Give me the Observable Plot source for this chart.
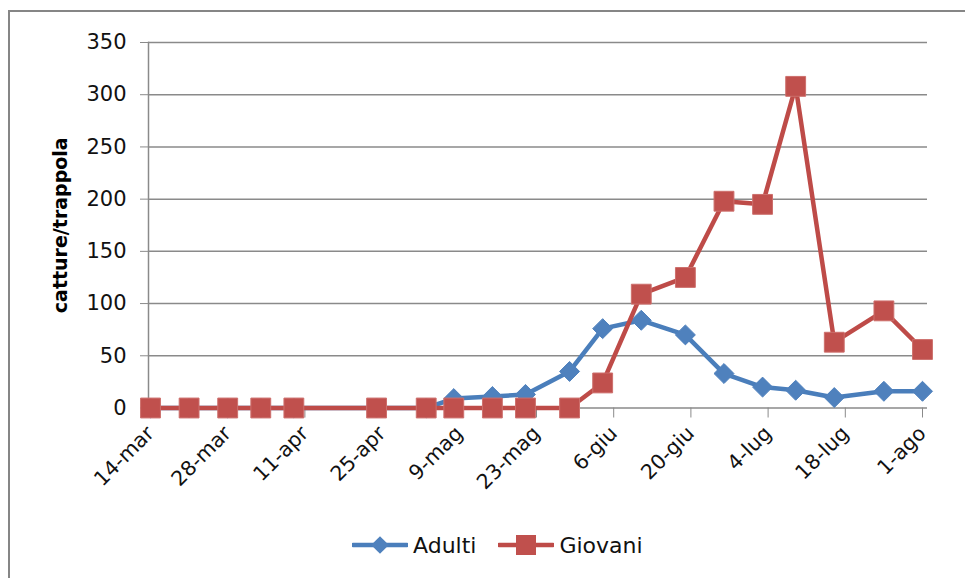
<!DOCTYPE html>
<html><head><meta charset="utf-8">
<script src="https://cdn.jsdelivr.net/npm/d3@7"></script>
<script src="https://cdn.jsdelivr.net/npm/@observablehq/plot@0.6"></script>
<style>
body{margin:0;background:#fff;font-family:"DejaVu Sans",sans-serif;}
#wrap{position:relative;width:965px;height:578px;overflow:hidden;background:#fff;}
#border{position:absolute;left:8px;top:10px;width:1100px;height:700px;border:2px solid #868686;box-sizing:border-box;}
#chart{position:absolute;left:0;top:0;}
#legend{position:absolute;left:352px;top:532px;display:flex;align-items:center;font-size:22px;color:#111;}
#legend .item{display:flex;align-items:center;}
#legend .item span{margin-left:5px;}
</style>
</head><body>
<div id="wrap"><div id="border"></div><div id="chart"></div><div id="legend"></div></div>
<script>
const dates = ["2011-03-14","2011-03-21","2011-03-28","2011-04-03","2011-04-09","2011-04-24","2011-05-03","2011-05-08","2011-05-15","2011-05-21","2011-05-29","2011-06-04","2011-06-11","2011-06-19","2011-06-26","2011-07-03","2011-07-09","2011-07-16","2011-07-25","2011-08-01"];
const adulti  = [0,0,0,0,0,0,0,9,11,13,35,76,84,70,33,20,17,10,16,16];
const giovani = [0,0,0,0,0,0,0,0,0,0,0,24,109,125,198,195,308,63,93,56];
const seriesNames = ["Adulti","Giovani"];
const tickDates = ["2011-03-14","2011-03-28","2011-04-11","2011-04-25","2011-05-09","2011-05-23","2011-06-06","2011-06-20","2011-07-04","2011-07-18","2011-08-01"];
const tickLabels = ["14-mar","28-mar","11-apr","25-apr","9-mag","23-mag","6-giu","20-giu","4-lug","18-lug","1-ago"];
const yTicks = [0,50,100,150,200,250,300,350];
const yTitle = "catture/trappola";
const blue = "#4A7EBB", blueFill = "#4F81BD", red = "#BE4B48", redFill = "#C0504D";

const rows = dates.map((d,i)=>({date:new Date(d), adulti:adulti[i], giovani:giovani[i]}));
const tDates = tickDates.map(d=>new Date(d));
const labelMap = new Map(tDates.map((d,i)=>[+d, tickLabels[i]]));

const chart = Plot.plot({
  width:965, height:510,
  marginLeft:148, marginRight:38, marginTop:42, marginBottom:102.5,
  x:{type:"utc", domain:[tDates[0], tDates[tDates.length-1]], insetLeft:2, insetRight:5},
  y:{domain:[0,350]},
  style:{fontFamily:"DejaVu Sans", fontSize:"20px", color:"#111", background:"transparent"},
  marks:[
    Plot.gridY(yTicks,{stroke:"#8a8a8a", strokeOpacity:1, strokeWidth:1.5}),
    Plot.frame({anchor:"left", stroke:"#8a8a8a", strokeWidth:1.5}),
    Plot.axisY(yTicks,{tickSize:8, tickPadding:14, fontSize:21, stroke:"#8a8a8a", label:null, tickFormat:d=>String(d)}),
    Plot.axisX(tDates,{tickSize:10, tickPadding:12, tickRotate:-45, fontSize:20.5, stroke:"#8a8a8a", label:null, tickFormat:d=>labelMap.get(+d)}),
    Plot.text([yTitle],{frameAnchor:"left", dx:-88, rotate:-90, textAnchor:"middle", fontWeight:"bold", fontSize:19, fill:"#000"}),
    Plot.line(rows,{x:"date", y:"adulti", stroke:blue, strokeWidth:4.5, strokeLinejoin:"round"}),
    Plot.dot(rows,{x:"date", y:"adulti", symbol:"diamond2", r:9, fill:blueFill, stroke:blueFill, strokeWidth:1}),
    Plot.line(rows,{x:"date", y:"giovani", stroke:red, strokeWidth:4.5, strokeLinejoin:"round"}),
    Plot.dot(rows,{x:"date", y:"giovani", symbol:"square", r:11.2, fill:redFill, stroke:"#CD6F6C", strokeWidth:1})
  ]
});
document.getElementById("chart").appendChild(chart);

// legend
const legend = d3.select("#legend");
const specs = [
  {name:seriesNames[0], stroke:blue, fill:blueFill, sym:d3.symbolDiamond2, size:200, gap:22},
  {name:seriesNames[1], stroke:red, fill:redFill, sym:d3.symbolSquare, size:400, gap:0}
];
specs.forEach(s=>{
  const it = legend.append("div").attr("class","item").style("margin-right", s.gap+"px");
  const sv = it.append("svg").attr("width",56).attr("height",26);
  sv.append("line").attr("x1",1).attr("x2",55).attr("y1",13).attr("y2",13)
    .attr("stroke",s.stroke).attr("stroke-width",4.5).attr("stroke-linecap","round");
  sv.append("path").attr("transform","translate(28,13)").attr("d",d3.symbol(s.sym, s.size)())
    .attr("fill",s.fill);
  it.append("span").text(s.name);
});
</script>
</body></html>
